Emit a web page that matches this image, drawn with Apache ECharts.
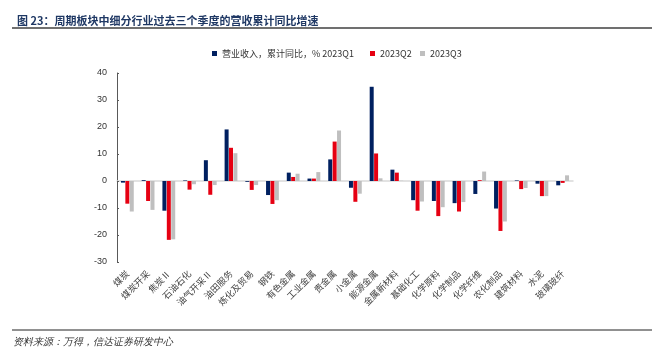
<!DOCTYPE html>
<html>
<head>
<meta charset="utf-8">
<script src="https://cdn.jsdelivr.net/npm/echarts@6/dist/echarts.min.js"></script>
<style>
html,body{margin:0;padding:0;background:#fff;}
#c{width:662px;height:355px;}
</style>
</head>
<body>
<div id="c"></div>
<script>
var categories = ['煤炭','煤炭开采','焦炭Ⅱ','石油石化','油气开采Ⅱ','油田服务','炼化及贸易','钢铁','有色金属','工业金属','贵金属','小金属','能源金属','金属新材料','基础化工','化学原料','化学制品','化学纤维','农化制品','建筑材料','水泥','玻璃玻纤'];
var q1 = [-0.6, 0.3, -11.0, 0.2, 7.7, 19.1, -0.3, -5.2, 3.1, 0.9, 8.0, -2.5, 34.9, 4.2, -7.1, -7.4, -8.2, -4.8, -10.2, 0.2, -1.0, -1.6];
var q2 = [-8.4, -7.4, -21.8, -3.2, -5.1, 12.3, -3.3, -8.5, 1.5, 0.9, 14.6, -7.7, 10.2, 3.1, -11.0, -13.0, -11.3, 0.3, -18.5, -3.0, -5.6, -0.7];
var q3 = [-11.3, -10.7, -21.6, -1.2, -1.5, 10.3, -1.5, -7.1, 2.7, 3.3, 18.7, -4.7, 1.0, 0.1, -7.6, -9.7, -7.8, 3.5, -15.0, -2.6, -5.6, 2.1];
var seriesNames = ['营业收入，累计同比，% 2023Q1', '2023Q2', '2023Q3'];
var yTicks = [-30, -20, -10, 0, 10, 20, 30, 40];

var chart = echarts.init(document.getElementById('c'), null, {renderer: 'canvas'});
var font = '"Noto Sans CJK SC", "Liberation Sans", sans-serif';
function bar(name, data, color) {
  return {
    name: name, type: 'bar', data: data, xAxisIndex: 0,
    barWidth: 4, barGap: '10%',
    itemStyle: {color: color},
    emphasis: {disabled: true}
  };
}
function legendAt(name, left) {
  return {
    data: [name], top: 49, left: left, padding: 0,
    itemWidth: 5, itemHeight: 5, icon: 'rect',
    textStyle: {fontSize: 9, color: '#333', fontFamily: font}
  };
}
chart.setOption({
  animation: false,
  textStyle: {fontFamily: font},
  title: {
    text: '图 23：周期板块中细分行业过去三个季度的营收累计同比增速',
    left: 12, top: 10,
    textStyle: {fontSize: 11, fontWeight: 'bold', color: '#1F3864', fontFamily: font}
  },
  legend: [
    legendAt(seriesNames[0], 212),
    legendAt(seriesNames[1], 370),
    legendAt(seriesNames[2], 420)
  ],
  grid: {left: 117, right: 89, top: 73, bottom: 93, containLabel: false},
  xAxis: [{
    type: 'category', data: categories, position: 'bottom',
    axisLine: {show: false, onZero: false},
    axisTick: {show: false},
    axisLabel: {interval: 0, rotate: 45, fontSize: 9, color: '#444', margin: 10, fontFamily: font}
  }, {
    type: 'category', data: categories, position: 'bottom',
    axisLine: {show: true, onZero: true, lineStyle: {color: '#D9D9D9', width: 1.5}},
    axisTick: {show: false},
    axisLabel: {show: false}
  }],
  yAxis: {
    type: 'value', min: -30, max: 40, interval: 10,
    axisLine: {show: true, lineStyle: {color: '#595959', width: 1}},
    axisTick: {show: true, inside: true, length: 2, lineStyle: {color: '#595959'}},
    splitLine: {show: false},
    axisLabel: {fontSize: 9, color: '#333', margin: 10, fontFamily: '"Liberation Sans", sans-serif',
      formatter: function(v){ return yTicks.indexOf(v) >= 0 ? String(v) : ''; }}
  },
  series: [
    bar(seriesNames[0], q1, '#002060'),
    bar(seriesNames[1], q2, '#E60012'),
    bar(seriesNames[2], q3, '#BFBFBF')
  ],
  graphic: [
    {type: 'line', shape: {x1: 12, y1: 28, x2: 652, y2: 28}, style: {stroke: '#404040', lineWidth: 1.5}},
    {type: 'line', shape: {x1: 12, y1: 330, x2: 652, y2: 330}, style: {stroke: '#222', lineWidth: 1}},
    {type: 'text', left: 13, top: 337, style: {text: '资料来源：万得，信达证券研发中心', fontSize: 10, fontStyle: 'italic', fill: '#333', font: 'italic 10px "Noto Sans CJK SC", sans-serif'}}
  ]
});
</script>
</body>
</html>
